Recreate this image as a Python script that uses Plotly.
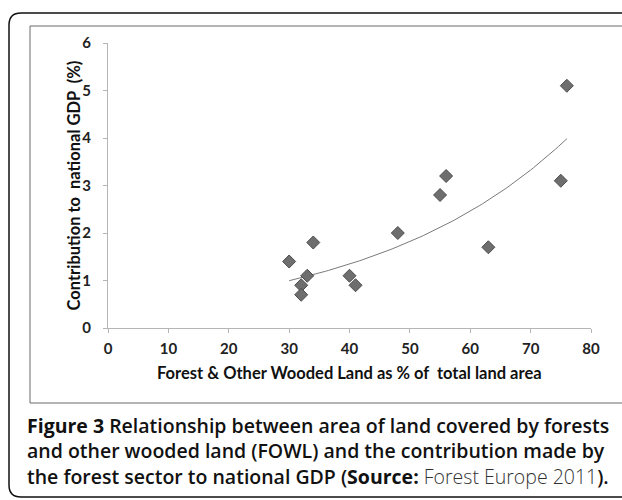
import numpy as np
import plotly.graph_objects as go

# Data
fowl_pct = [30, 32, 32, 33, 34, 40, 41, 48, 55, 56, 63, 75, 76]
gdp_pct = [1.4, 0.9, 0.7, 1.1, 1.8, 1.1, 0.9, 2.0, 2.8, 3.2, 1.7, 3.1, 5.1]
x_ticks = [0, 10, 20, 30, 40, 50, 60, 70, 80]
y_ticks = [0, 1, 2, 3, 4, 5, 6]
caption_lines = [
    "<b>Figure 3</b> Relationship between area of land covered by forests",
    "and other wooded land (FOWL) and the contribution made by",
    "the forest sector to national GDP (<b>Source:</b> "
    "<span style='font-weight:300;color:#333'>Forest Europe 2011</span>).",
]

# Exponential trendline (least squares on ln y, as Excel does)
b, ln_a = np.polyfit(np.array(fowl_pct, float), np.log(np.array(gdp_pct, float)), 1)
tx = np.linspace(min(fowl_pct), max(fowl_pct), 100)
ty = np.exp(ln_a) * np.exp(b * tx)

W, H = 622, 500
L, R, T, B = 108, 31, 43, 172

fig = go.Figure()
fig.add_trace(go.Scatter(x=tx, y=ty, mode="lines",
                         line=dict(color="#7a7a7a", width=1), hoverinfo="skip",
                         showlegend=False))
fig.add_trace(go.Scatter(x=fowl_pct, y=gdp_pct, mode="markers",
                         marker=dict(symbol="diamond", size=10, color="#6e6e6e",
                                     line=dict(color="#4d4d4d", width=1)),
                         showlegend=False))

tickfont = dict(family="Lato", size=15, color="#222", weight="bold")
fig.update_xaxes(range=[0, 80], tickvals=x_ticks, showgrid=False, zeroline=False,
                 showline=True, linecolor="#b5b5b5", linewidth=1,
                 ticks="outside", ticklen=4, tickcolor="#b5b5b5",
                 tickfont=tickfont, ticklabelstandoff=3)
fig.update_yaxes(range=[0, 6], tickvals=y_ticks, showgrid=False, zeroline=False,
                 showline=True, linecolor="#b5b5b5", linewidth=1,
                 ticks="outside", ticklen=4, tickcolor="#b5b5b5",
                 tickfont=tickfont, ticklabelstandoff=9)

title_font = dict(family="Lato", size=16.5, color="#111", weight="bold")
annotations = [
    dict(text="Contribution to  national GDP  (%)", xref="paper", yref="paper",
         x=0, y=0.5, xshift=73 - L, xanchor="center", yanchor="middle",
         textangle=-90, showarrow=False, font=title_font),
    dict(text="Forest &amp; Other Wooded Land as % of  total land area", xref="paper",
         yref="paper", x=0.5, y=0, yshift=-(373 - (H - B)), xanchor="center",
         yanchor="middle", showarrow=False, font=title_font),
    dict(text="<br>".join(caption_lines), xref="paper", yref="paper", x=0, y=0,
         xshift=25 - L, yshift=-(451 - (H - B)), xanchor="left", yanchor="middle",
         align="left", showarrow=False,
         font=dict(family="Open Sans", size=19.5, color="#111", weight=600)),
]

# Decorative frames in pixel units relative to plot-area corner (paper 0,0)
def px(xp):
    return xp - L

def py(yp):
    return (H - B) - yp

r = 12
outer = (f"M {px(640)},{py(13)} L {px(9 + r)},{py(13)} "
         f"Q {px(9)},{py(13)} {px(9)},{py(13 + r)} "
         f"L {px(9)},{py(497 - r)} Q {px(9)},{py(497)} {px(9 + r)},{py(497)} "
         f"L {px(640)},{py(497)}")
shapes = [
    dict(type="path", xref="paper", yref="paper", xsizemode="pixel", ysizemode="pixel",
         xanchor=0, yanchor=0, path=outer, line=dict(color="#111", width=1.5)),
    dict(type="rect", xref="paper", yref="paper", xsizemode="pixel", ysizemode="pixel",
         xanchor=0, yanchor=0, x0=px(30), x1=px(650), y0=py(26), y1=py(403),
         line=dict(color="#6a6a6a", width=1)),
]

fig.update_layout(width=W, height=H, margin=dict(l=L, r=R, t=T, b=B),
                  paper_bgcolor="white", plot_bgcolor="white",
                  annotations=annotations, shapes=shapes)
fig.write_html("out.html", config={"displayModeBar": False},
               post_script="document.body.style.margin='0';document.body.style.padding='0';")
